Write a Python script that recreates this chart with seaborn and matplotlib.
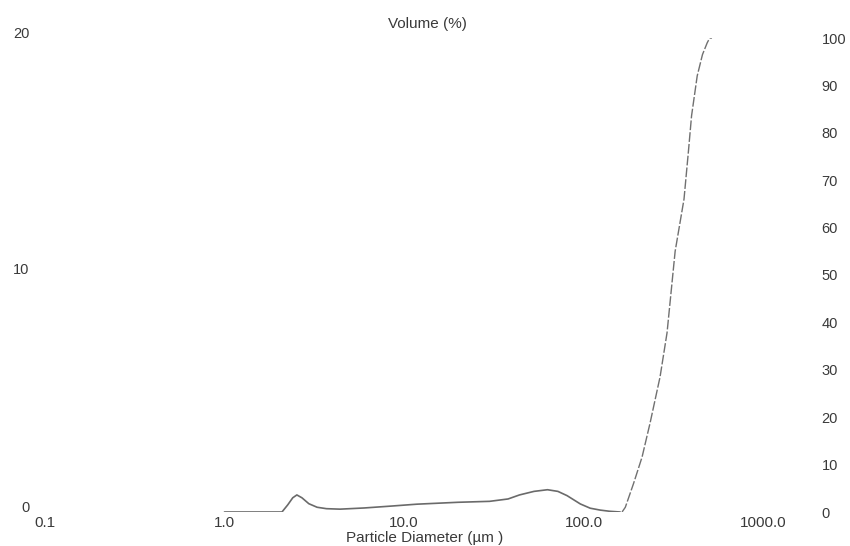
import matplotlib
matplotlib.use("Agg")
import matplotlib.pyplot as plt
from matplotlib.transforms import ScaledTranslation
import numpy as np
import pandas as pd
import seaborn as sns

# Particle size distribution: volume frequency (left axis, %) and cumulative volume (right axis, %)
freq_diameter = [1.0, 2.09, 2.25, 2.4, 2.53, 2.7, 2.95, 3.28, 3.7, 4.4, 6.0, 8.5, 11.8,
                 20.0, 30.0, 38.0, 44.0, 53.0, 63.0, 72.0, 81.0, 96.0, 109.0, 124.0,
                 140.0, 160.0]
freq_volume = [0.0, 0.0, 0.3, 0.6, 0.72, 0.6, 0.35, 0.2, 0.14, 0.12, 0.17, 0.25, 0.33,
               0.41, 0.45, 0.55, 0.72, 0.87, 0.94, 0.87, 0.69, 0.34, 0.16, 0.08,
               0.03, 0.0]

cum_diameter = [164.0, 171.0, 190.0, 212.0, 235.0, 267.0, 292.0, 324.0, 363.0, 384.0,
                400.0, 430.0, 460.0, 489.0, 505.0, 520.0]
cum_volume = [0.0, 1.0, 6.0, 11.6, 18.8, 28.5, 37.8, 55.0, 66.0, 76.0,
              83.6, 92.0, 96.5, 99.0, 100.0, 100.0]

x_ticks = [0.1, 1.0, 10.0, 100.0, 1000.0]
x_tick_labels = ["0.1", "1.0", "10.0", "100.0", "1000.0"]
left_ticks = [0, 10, 20]
right_ticks = [0, 10, 20, 30, 40, 50, 60, 70, 80, 90, 100]

sns.set_theme(style="white")
plt.rcParams["font.family"] = ["Liberation Sans", "DejaVu Sans"]
text_color = "#3a3a3a"

fig = plt.figure(figsize=(8.5, 5.46), dpi=100)
ax = fig.add_axes([45 / 850, 34 / 546, 760 / 850, 474 / 546])
ax2 = ax.twinx()

freq_df = pd.DataFrame({"diameter": freq_diameter, "volume": freq_volume})
cum_df = pd.DataFrame({"diameter": cum_diameter, "volume": cum_volume})

sns.lineplot(data=freq_df, x="diameter", y="volume", ax=ax, color="#6a6a6a",
             linewidth=1.2, sort=False)
sns.lineplot(data=cum_df, x="diameter", y="volume", ax=ax2, color="#707070",
             linewidth=1.0, linestyle=(0, (7, 1.5)), sort=False)

ax.set_xscale("log")
ax.set_xlim(0.1, 10 ** 3.234)
ax.set_ylim(0, 20)
ax2.set_ylim(0, 100)

ax.set_xticks(x_ticks)
ax.set_xticklabels(x_tick_labels)
ax.xaxis.set_minor_locator(matplotlib.ticker.NullLocator())
ax.set_yticks(left_ticks)
ax.set_yticklabels([str(t) for t in left_ticks])
ax2.set_yticks(right_ticks)
ax2.set_yticklabels([str(t) for t in right_ticks], ha="left")

ax.tick_params(axis="x", length=0, pad=3, labelsize=11, labelcolor=text_color)
ax.tick_params(axis="y", length=0, pad=11, labelsize=10.5, labelcolor=text_color)
ax2.tick_params(axis="y", length=0, pad=12, labelsize=10.5, labelcolor=text_color)

# left labels sit a little above their gridline positions
shift = ScaledTranslation(0, 6 / 100, fig.dpi_scale_trans)
for lab in ax.get_yticklabels():
    lab.set_transform(lab.get_transform() + shift)

ax.set_xlabel("")
ax.set_ylabel("")
ax2.set_ylabel("")
for a in (ax, ax2):
    for sp in a.spines.values():
        sp.set_visible(False)
    a.grid(False)

fig.text(427 / 850, 1 - 24 / 546, "Volume (%)", ha="center", va="center",
         fontsize=11, color=text_color)
fig.text(425 / 850, 1 - 538 / 546, "Particle Diameter (µm )", ha="center",
         va="center", fontsize=11, color=text_color)

fig.savefig("out.png", dpi=100, facecolor="white")
